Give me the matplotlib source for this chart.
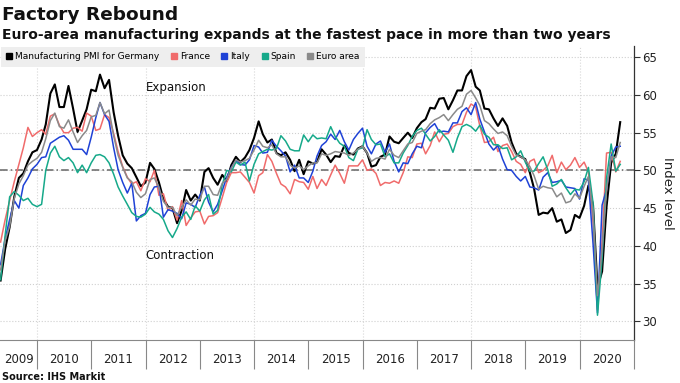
import numpy as np
import pandas as pd
import matplotlib
matplotlib.use("Agg")
import matplotlib.pyplot as plt
import matplotlib.dates as mdates
from matplotlib.lines import Line2D

# Monthly manufacturing PMI, Apr 2009 - Sep 2020
germany = [
    35.4, 39.6, 42.5, 46.5, 49.0, 49.6, 51.2, 52.4, 52.7,
    54.1, 56.1, 60.2, 61.4, 58.4, 58.4, 61.2, 58.2, 55.1, 56.6, 58.1, 60.7,
    60.5, 62.7, 60.9, 62.0, 57.7, 54.6, 52.0, 50.9, 50.3, 49.1, 47.9, 48.4,
    51.0, 50.2, 48.4, 46.2, 45.2, 45.0, 43.0, 44.7, 47.4, 46.0, 46.8, 46.0,
    49.8, 50.3, 49.0, 48.1, 49.4, 48.6, 50.7, 51.8, 51.1, 51.7, 52.7, 54.3,
    56.5, 54.8, 53.7, 54.1, 52.3, 52.0, 52.4, 51.4, 49.9, 51.4, 49.5, 51.2,
    50.9, 51.1, 52.8, 52.1, 51.1, 51.9, 51.8, 53.3, 52.3, 52.1, 52.9, 53.2,
    52.3, 50.5, 50.7, 51.8, 52.1, 54.5, 53.8, 53.6, 54.3, 55.0, 54.3, 55.6,
    56.4, 56.8, 58.3, 58.2, 59.5, 59.6, 58.1, 59.3, 60.6, 60.6, 62.5, 63.3,
    61.1, 60.6, 58.2, 58.1, 56.9, 55.9, 56.9, 55.9, 53.7, 52.2, 51.8, 51.5,
    49.7, 47.6, 44.1, 44.4, 44.3, 45.0, 43.2, 43.5, 41.7, 42.1, 44.1, 43.7,
    45.3, 48.0, 45.4, 34.5, 36.6, 45.2, 51.0, 52.2, 56.4,
]
france = [
    40.5, 43.5, 46.0, 48.5, 50.8, 53.0, 55.7, 54.5, 55.0,
    55.4, 54.8, 57.2, 57.5, 56.0, 55.0, 55.0, 55.6, 55.7, 55.2, 57.6, 57.2,
    55.3, 55.5, 57.4, 57.0, 54.9, 52.5, 50.5, 49.1, 48.2, 48.5, 47.3, 48.9,
    48.5, 50.0, 46.7, 46.9, 44.7, 45.2, 43.4, 46.0, 42.7, 43.7, 44.5, 44.6,
    42.9, 43.9, 44.0, 44.4, 46.4, 48.4, 49.7, 49.7, 49.8, 49.1, 48.4, 47.0,
    49.3, 49.7, 52.1, 51.2, 49.6, 48.2, 47.8, 46.9, 48.8, 48.5, 48.4, 47.5,
    49.2, 47.6, 48.8, 48.0, 49.4, 50.7, 49.6, 48.3, 50.6, 50.6, 50.6, 51.4,
    50.0, 50.2, 49.6, 48.0, 48.4, 48.3, 48.6, 48.3, 49.7, 51.8, 51.7, 53.5,
    53.6, 52.2, 53.3, 55.1, 53.8, 54.8, 54.9, 55.8, 56.1, 56.1, 57.7, 58.8,
    58.4, 55.9, 53.7, 53.8, 54.4, 52.5, 53.3, 53.5, 52.5, 51.2, 50.8, 49.7,
    51.2, 51.5, 49.7, 50.0, 50.6, 52.0, 49.7, 51.1, 50.1, 50.7, 51.7, 50.4,
    51.1, 49.8, 43.2, 31.5, 40.6, 52.3, 52.4, 49.8, 51.2,
]
italy = [
    37.5, 41.0, 43.5, 46.0, 45.0, 48.0, 49.0, 50.2, 50.8,
    51.7, 51.8, 53.6, 54.0, 54.4, 54.6, 54.0, 52.8, 52.8, 52.8, 52.1, 54.4,
    57.0, 59.0, 57.4, 56.5, 53.0, 50.1, 48.4, 47.0, 48.3, 43.3, 44.0, 44.3,
    46.8, 47.8, 47.9, 43.8, 44.8, 44.6, 44.3, 43.6, 45.7, 45.5, 45.1, 46.7,
    47.8, 45.8, 44.5, 45.5, 47.3, 49.1, 50.4, 51.3, 50.8, 50.7, 51.4, 53.3,
    53.1, 52.3, 52.4, 54.0, 53.2, 52.6, 51.9, 49.8, 50.7, 49.0, 49.0, 48.4,
    49.9, 51.9, 53.3, 53.8, 54.8, 54.1, 55.3, 53.8, 52.7, 54.1, 54.9, 55.6,
    53.2, 52.2, 53.5, 53.9, 52.4, 53.5, 51.2, 49.8, 51.0, 50.9, 52.2, 53.2,
    53.0, 55.0, 55.7, 56.2, 55.1, 55.2, 55.1, 56.3, 56.3, 57.8, 58.3, 57.4,
    59.0, 56.8, 55.1, 53.5, 52.7, 53.3, 51.5, 50.1, 50.0, 49.2, 48.6, 49.2,
    47.8, 47.7, 47.4, 49.1, 49.7, 48.4, 48.5, 48.7, 47.8, 47.7, 47.6, 46.2,
    48.9, 48.7, 40.3, 31.1, 45.4, 47.5, 51.9, 53.1, 53.2,
]
spain = [
    35.5, 41.5, 46.5, 47.2, 46.7, 46.0, 46.3, 45.5, 45.2,
    45.5, 50.0, 52.3, 53.2, 51.8, 51.3, 51.7, 51.0, 49.7, 50.7, 49.7, 51.0,
    52.0, 52.1, 51.8, 51.0, 49.5, 47.8, 46.6, 45.5, 44.4, 43.9, 43.8, 44.2,
    45.1, 44.5, 44.2, 43.5, 42.0, 41.1, 42.3, 43.8, 44.5, 43.5, 45.3, 44.6,
    46.1, 46.8, 44.2, 44.7, 48.1, 50.0, 49.8, 51.1, 50.7, 51.1, 48.6, 50.8,
    52.2, 52.5, 52.8, 52.7, 52.9, 54.6, 53.9, 52.8, 52.6, 52.6, 54.7, 53.8,
    54.7, 54.2, 54.3, 54.2, 55.8, 54.5, 53.6, 53.2, 51.7, 51.3, 52.8, 53.0,
    55.4, 54.1, 53.4, 53.5, 51.8, 52.2, 51.0, 51.0, 52.3, 53.3, 54.5, 55.3,
    55.6, 54.8, 53.9, 54.5, 55.4, 54.7, 54.0, 52.4, 54.3, 55.8, 56.1, 55.8,
    55.2, 56.0, 54.8, 54.4, 53.4, 53.4, 52.9, 53.0, 51.4, 51.8, 52.6, 51.1,
    49.9, 49.9, 50.9, 51.8, 50.1, 47.9, 48.2, 48.8, 47.7, 46.8, 47.5, 47.4,
    48.5, 50.4, 45.7, 30.8, 38.3, 49.0, 53.5, 49.9, 50.8,
]
euro_area = [
    36.8, 40.7, 42.6, 46.3, 48.2, 49.3, 50.7, 51.2, 51.6,
    52.4, 54.2, 56.6, 57.6, 55.8, 55.6, 56.7, 55.1, 53.7, 54.6, 55.3, 57.1,
    57.3, 59.0, 57.5, 58.0, 54.6, 52.0, 50.4, 49.0, 48.5, 47.1, 46.4, 46.9,
    48.8, 49.0, 47.7, 45.9, 45.1, 45.1, 44.0, 45.1, 46.1, 45.4, 46.2, 46.1,
    47.9, 47.9, 46.8, 46.7, 48.3, 48.8, 50.3, 51.4, 51.1, 51.3, 51.6, 52.7,
    54.0, 53.2, 53.0, 53.4, 52.2, 51.8, 51.8, 50.7, 50.3, 50.6, 50.1, 50.6,
    51.0, 51.0, 52.2, 52.0, 52.2, 52.5, 52.4, 52.3, 52.0, 52.3, 52.8, 53.2,
    52.3, 51.2, 51.6, 51.7, 51.5, 52.8, 52.0, 51.7, 52.6, 53.5, 53.7, 54.9,
    55.2, 55.4, 56.2, 56.7, 57.0, 57.4, 56.6, 57.4, 58.1, 58.5, 60.1, 60.6,
    59.6, 58.6, 56.6, 56.2, 55.5, 54.9, 55.1, 54.6, 53.2, 52.0, 51.8, 51.4,
    50.5, 49.3, 47.5, 47.9, 47.7, 47.6, 46.5, 47.0, 45.7, 45.9, 46.9, 46.3,
    47.9, 49.2, 44.5, 33.4, 39.4, 47.4, 51.8, 51.7, 53.7,
]

series_names = ["Manufacturing PMI for Germany", "France", "Italy", "Spain", "Euro area"]
series_values = [germany, france, italy, spain, euro_area]
series_colors = ["#000000", "#f06b6b", "#1f42d6", "#16a98a", "#8a8a8a"]
series_widths = [1.5, 1.1, 1.1, 1.1, 1.1]
y_ticks = [30, 35, 40, 45, 50, 55, 60, 65]
year_labels = [str(y) for y in range(2009, 2021)]

dates = pd.date_range("2009-04-30", periods=len(germany), freq="ME")
x_left = pd.Timestamp("2009-04-26")
x_right = pd.Timestamp("2021-01-01")

fig = plt.figure(figsize=(6.8, 3.83), dpi=100)
ax = fig.add_axes([0.0, 0.112, 0.9324, 0.768])

for vals, col, lw in zip(series_values, series_colors, series_widths):
    ax.plot(dates, vals, color=col, lw=lw, zorder=3)

ax.axhline(50, color="#666666", lw=1.1, ls=(0, (5, 2, 1, 2)), zorder=2)

ax.set_ylim(27.5, 66.5)
ax.set_xlim(x_left, x_right)

# y axis on the right
ax.yaxis.tick_right()
ax.yaxis.set_label_position("right")
ax.set_yticks(y_ticks)
ax.tick_params(axis="y", direction="out", length=4, width=0.8, color="#333333",
               labelsize=8.5, pad=2, labelcolor="#222222")
ax.set_ylabel("Index level", rotation=270, labelpad=12, fontsize=9.5, color="#222222")

# x axis: year separators as long ticks, labels centred in the visible part of each year
ax.xaxis.set_major_locator(mdates.YearLocator(1))
ax.xaxis.set_major_formatter(plt.NullFormatter())
label_pos = []
for y in range(2009, 2021):
    a = max(pd.Timestamp(f"{y}-01-01"), x_left)
    b = min(pd.Timestamp(f"{y + 1}-01-01"), x_right)
    label_pos.append(a + (b - a) / 2)
ax.set_xticks(label_pos, minor=True)
ax.set_xticklabels(year_labels, minor=True)
ax.tick_params(axis="x", which="major", length=21, width=0.8, color="#888888")
ax.tick_params(axis="x", which="minor", length=0, labelsize=8.5, pad=9, labelcolor="#222222")

# grid
ax.grid(axis="y", color="#d0d0d0", ls=":", lw=0.8)
for yr in range(2010, 2021, 2):
    ax.axvline(pd.Timestamp(f"{yr}-01-01"), color="#d8d8d8", ls=":", lw=0.8, zorder=1)

for side in ["left", "top"]:
    ax.spines[side].set_visible(False)
ax.spines["right"].set_color("#333333")
ax.spines["bottom"].set_color("#888888")
ax.spines["right"].set_linewidth(0.9)

# annotations
ax.text(pd.Timestamp("2012-01-01"), 61.0, "Expansion", fontsize=8.5, va="center", ha="left", color="#111111")
ax.text(pd.Timestamp("2012-01-01"), 38.7, "Contraction", fontsize=8.5, va="center", ha="left", color="#111111")

# legend
handles = [Line2D([], [], marker="s", ls="none", color=c, markersize=5) for c in series_colors]
leg = ax.legend(handles, series_names, loc="upper left", bbox_to_anchor=(0.0, 1.0), ncol=5,
                frameon=True, fancybox=False, facecolor="#eeeeee", edgecolor="none", framealpha=1,
                fontsize=6.5, handlelength=0.7, handletextpad=0.3, columnspacing=1.25,
                borderaxespad=0.1, borderpad=0.6)
leg.set_zorder(5)

# titles
fig.text(0.003, 0.962, "Factory Rebound", fontsize=13.3, fontweight="bold", va="center", ha="left", color="#111111")
fig.text(0.003, 0.908, "Euro-area manufacturing expands at the fastest pace in more than two years",
         fontsize=10.0, fontweight="bold", va="center", ha="left", color="#111111")
fig.text(0.003, 0.016, "Source: IHS Markit", fontsize=7, fontweight="bold", va="center", ha="left", color="#111111")

fig.savefig("out.png", dpi=100)
